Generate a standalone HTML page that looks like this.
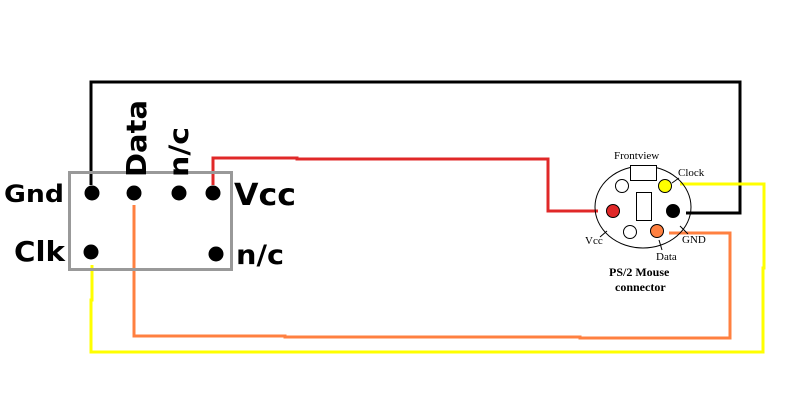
<!DOCTYPE html>
<html><head><style>html,body{margin:0;padding:0;background:#fff;width:800px;height:400px;overflow:hidden}</style></head>
<body>
<svg width="800" height="400" viewBox="0 0 800 400" xmlns="http://www.w3.org/2000/svg">
<rect x="0" y="0" width="800" height="400" fill="#fff"/>
<polyline points="91,185 91,82 740,82 740,213 686,213" fill="none" stroke="#000" stroke-width="3"/>
<polyline points="213,185 213,158 297,158 297,159 548,159 548,211 598,211" fill="none" stroke="#e02828" stroke-width="3"/>
<polyline points="134,205 134,336 285,336 285,337 580,337 580,338 730,338 730,233 669,233" fill="none" stroke="#ff8040" stroke-width="3"/>
<polyline points="92,265 92,300 91,300 91,352 763,352 763,268 764,268 764,184 680,184" fill="none" stroke="#ffff00" stroke-width="3"/>
<rect x="69.5" y="172.5" width="162" height="97" fill="none" stroke="#999" stroke-width="3"/>
<g fill="#000">
<circle cx="92" cy="193" r="7.5"/>
<circle cx="134" cy="193" r="7.5"/>
<circle cx="179" cy="193" r="7.5"/>
<circle cx="213" cy="193" r="7.5"/>
<circle cx="91" cy="252" r="7.5"/>
<circle cx="216" cy="254" r="7.5"/>
</g>
<g font-family="'DejaVu Sans', 'Liberation Sans', sans-serif" font-weight="bold" fill="#000">
<text x="4" y="202" font-size="24" textLength="60" lengthAdjust="spacingAndGlyphs">Gnd</text>
<text x="234" y="205" font-size="30" textLength="62" lengthAdjust="spacingAndGlyphs">Vcc</text>
<text x="14" y="261" font-size="28" textLength="51" lengthAdjust="spacingAndGlyphs">Clk</text>
<text x="236" y="264" font-size="27" textLength="48" lengthAdjust="spacingAndGlyphs">n/c</text>
<text transform="translate(146,177) rotate(-90)" font-size="28" textLength="77" lengthAdjust="spacingAndGlyphs">Data</text>
<text transform="translate(188,177) rotate(-90)" font-size="27" textLength="50" lengthAdjust="spacingAndGlyphs">n/c</text>
</g>
<ellipse cx="643" cy="207" rx="48" ry="41" fill="none" stroke="#000" stroke-width="1"/>
<rect x="630.5" y="165.5" width="26" height="15" fill="#fff" stroke="#000"/>
<rect x="636.5" y="192.5" width="15" height="28" fill="#fff" stroke="#000"/>
<circle cx="622" cy="186" r="6.5" fill="#fff" stroke="#000"/>
<circle cx="665" cy="186" r="6.5" fill="#ffff00" stroke="#000"/>
<circle cx="613" cy="211" r="6.5" fill="#e02828" stroke="#000"/>
<circle cx="673" cy="211" r="6.5" fill="#000" stroke="#000"/>
<circle cx="630" cy="232" r="6.5" fill="#fff" stroke="#000"/>
<circle cx="657" cy="231" r="6.5" fill="#ff8040" stroke="#000"/>
<g stroke="#000" stroke-width="1">
<line x1="607" y1="231" x2="600" y2="237"/>
<line x1="680" y1="226" x2="688" y2="234"/>
<line x1="659" y1="240" x2="662" y2="250"/>
<line x1="672" y1="183" x2="679" y2="178"/>
</g>
<g font-family="'Liberation Serif', serif" fill="#000" font-size="11">
<text x="614" y="159">Frontview</text>
<text x="678" y="176">Clock</text>
<text x="585" y="244">Vcc</text>
<text x="682" y="243">GND</text>
<text x="656" y="260">Data</text>
<text x="609" y="276" font-weight="bold" font-size="12">PS/2 Mouse</text>
<text x="615" y="291" font-weight="bold" font-size="12">connector</text>
</g>
</svg>
</body></html>
